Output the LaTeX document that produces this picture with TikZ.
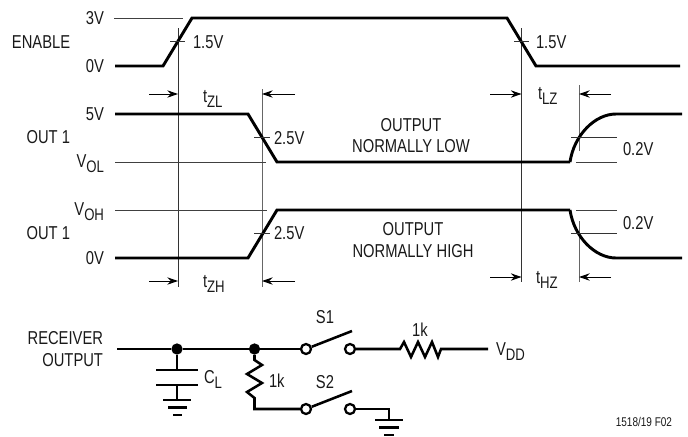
\documentclass[tikz,border=0pt]{standalone}
\usepackage{fontspec}
\setmainfont{Liberation Sans}[FakeStretch=0.79]
\usetikzlibrary{arrows.meta}
\newcommand{\sbs}[1]{\raisebox{-0.32em}{\fontsize{12.5pt}{13pt}\selectfont #1}}
\definecolor{ink}{gray}{0.1}
\tikzset{
 wave/.style={line width=2.2pt,black,line join=miter},
 wire/.style={line width=1.9pt,black},
 thin/.style={line width=0.7pt,black!75},
 guide/.style={line width=0.75pt,black!80},
 dim/.style={line width=0.75pt,black,-{Stealth[length=8pt,width=5.5pt]}},
 lab/.style={inner sep=0,outer sep=0,text=ink,font=\fontsize{14pt}{16pt}\selectfont},
 labr/.style={lab,anchor=base east},
 labl/.style={lab,anchor=base west},
 labc/.style={lab,anchor=base},
 dot/.style={circle,fill=black,inner sep=0,minimum size=8.5pt},
 term/.style={circle,draw=black,line width=1.7pt,fill=white,inner sep=0,minimum size=7.5pt},
}
\begin{document}
\begin{tikzpicture}[x=0.75pt,y=-0.75pt]
\useasboundingbox (0,0) rectangle (688,436);
% guides
\draw[guide] (178,28) -- (178,287);
\draw[guide,black!60] (262,89) -- (262,287);
\draw[guide] (521.5,28) -- (521.5,282);
\draw[guide,black!60] (579,85) -- (579,151);
\draw[guide,black!60] (579,221) -- (579,282);
% level lines
\draw[thin] (114,18) -- (183,18);
\draw[thin] (115,162) -- (266,162);
\draw[thin] (115,210) -- (267,210);
\draw[thin] (576,162) -- (617,162);
\draw[thin] (576,210) -- (617,210);
% waveforms
\draw[wave] (115,66) -- (163,66) -- (192,18) -- (507,18) -- (536,66) -- (680,66);
\draw[wave] (115,114) -- (248,114) -- (277,162) -- (570,162);
\draw[wave] (570,162) .. controls (574,135) and (595,114) .. (616,114) -- (682,114);
\draw[wave] (115,258) -- (248,258) -- (277,210) -- (570,210);
\draw[wave] (570,210) .. controls (574,237) and (595,258) .. (616,258) -- (682,258);
% ticks
\draw[guide] (170,41) -- (185,41);
\draw[guide] (514,41) -- (529,41);
\draw[guide] (254,137) -- (270,137);
\draw[guide] (254,233) -- (270,233);
\draw[guide] (571,137) -- (617,137);
\draw[guide] (571,233) -- (617,233);
% dimension arrows
\coordinate (a1) at (178,94); \coordinate (a2) at (262,94); \coordinate (a3) at (521.5,94); \coordinate (a4) at (579,94);
\coordinate (b1) at (178,281); \coordinate (b2) at (262,281); \coordinate (b3) at (521.5,277); \coordinate (b4) at (579,277);
\draw[dim] (149,94) -- (a1);
\draw[dim] (295,94) -- (a2);
\draw[dim] (490,94) -- (a3);
\draw[dim] (611,94) -- (a4);
\draw[dim] (149,281) -- (b1);
\draw[dim] (295,281) -- (b2);
\draw[dim] (490,277) -- (b3);
\draw[dim] (611,277) -- (b4);
% left labels
\node[labr] (l3v) at (104,24) {3V};
\node[labl] (len) at (12,48) {ENABLE};
\node[labr] (l0v) at (104,72) {0V};
\node[labr] (l5v) at (104,120) {5V};
\node[labr] (lo1) at (70,143.5) {OUT 1};
\node[labr] (lvol) at (104,167) {V\sbs{OL}};
\node[labr] (lvoh) at (104,215) {V\sbs{OH}};
\node[labr] (lo2) at (70,239) {OUT 1};
\node[labr] (l0b) at (104,264) {0V};
% value labels
\node[labl] (v1) at (193,48) {1.5V};
\node[labl] (v2) at (536,48) {1.5V};
\node[labl] (v3) at (274,144) {2.5V};
\node[labl] (v4) at (274,239) {2.5V};
\node[labl] (v5) at (623,155) {0.2V};
\node[labl] (v6) at (623,229) {0.2V};
\node[labl] (t1) at (203,102) {t\sbs{ZL}};
\node[labl] (t2) at (538,99) {t\sbs{LZ}};
\node[labl] (t3) at (203,287) {t\sbs{ZH}};
\node[labl] (t4) at (536,283) {t\sbs{HZ}};
\node[labc] (o1) at (411,131) {OUTPUT};
\node[labc] (o2) at (411,152) {NORMALLY LOW};
\node[labc] (o3) at (413,235) {OUTPUT};
\node[labc] (o4) at (413,257) {NORMALLY HIGH};
% circuit
\node[labr] (r1) at (103,344) {RECEIVER};
\node[labr] (r2) at (103,366) {OUTPUT};
\coordinate (in) at (117,349);
\node[dot] (d1) at (177,349) {};
\node[dot] (d2) at (254.5,349) {};
\node[term] (s1a) at (306,349) {};
\node[term] (s1b) at (350,349) {};
\node[term] (s2a) at (306,409) {};
\node[term] (s2b) at (350,409) {};
\coordinate (vddend) at (488,349);
\coordinate (s1arm) at (352,331);
\coordinate (s2arm) at (352,391);
\coordinate (capt) at (177,370);
\coordinate (capb) at (177,385);
\coordinate (g1) at (177,400);
\coordinate (g2) at (389,420);
\draw[wire] (in) -- (d1) -- (d2) -- (s1a);
\draw[wire] (s1a) -- (s1arm);
\draw[wire] (s2a) -- (s2arm);
\draw[wire] (s1b) -- (400,349) -- (404,342) -- (411,357) -- (418,342) -- (425,357) -- (432,342) -- (438,357) -- (441,349) -- (vddend);
\draw[wire] (d2) -- (254.5,360) -- (262,365) -- (247,374) -- (262,383) -- (247,392) -- (254.5,398) -- (254.5,409) -- (s2a);
\draw[wire] (d1) -- (capt);
\draw[wire] (capb) -- (g1);
\draw[wire] (156,370) -- (198,370);
\draw[wire] (156,385) -- (198,385);
\draw[wire] (163,400) -- (191,400);
\draw[wire] (168,407.5) -- (187,407.5);
\draw[wire] (173,415) -- (182,415);
\draw[wire] (s2b) -- (389,409) -- (g2);
\draw[wire] (375,420) -- (403,420);
\draw[wire] (379,427.5) -- (399,427.5);
\draw[wire] (384,435) -- (394,435);
\node[labl] (cl) at (204,383) {C\sbs{L}};
\node[labl] (k1) at (269,387) {1k};
\node[labc] (k2) at (420,336) {1k};
\node[labc] (n1) at (325,323) {S1};
\node[labc] (n2) at (325,388) {S2};
\node[labl] (vdd) at (496,355) {V\sbs{DD}};
\node[lab,anchor=base east,font=\fontsize{9.5pt}{11pt}\selectfont] (fig) at (672,426) {1518/19 F02};
\end{tikzpicture}
\end{document}
